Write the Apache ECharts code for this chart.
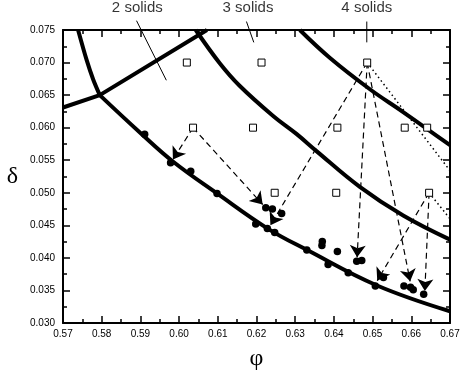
<!DOCTYPE html>
<html>
<head>
<meta charset="utf-8">
<script src="https://cdn.jsdelivr.net/npm/echarts@6.0.0/dist/echarts.min.js"></script>
<style>
  html, body { margin: 0; padding: 0; background: #fff; }
  #chart { width: 463px; height: 376px; }
</style>
</head>
<body>
<div id="chart"></div>
<script>
// 坐标范围
const phiRange = [0.57, 0.67]
const deltaRange = [0.030, 0.075]

// 实心圆：最终状态
const endPhi = [0.5911, 0.5978, 0.6030, 0.6098, 0.6198, 0.6224, 0.6241, 0.6265, 0.6228, 0.6247,
  0.6330, 0.6370, 0.6369, 0.6409, 0.6385, 0.6437, 0.6459, 0.6472, 0.6507, 0.6528,
  0.6581, 0.6598, 0.6605, 0.6632]
const endDelta = [0.0590, 0.0546, 0.0533, 0.0499, 0.0452, 0.0477, 0.0475, 0.0468, 0.0445, 0.0439,
  0.0412, 0.0425, 0.0419, 0.0410, 0.0390, 0.0377, 0.0395, 0.0396, 0.0357, 0.0370,
  0.0357, 0.0355, 0.0351, 0.0344]

// 空心方块：初始状态
const startPhi = [0.6020, 0.6213, 0.6486, 0.6036, 0.6191, 0.6409, 0.6583, 0.6641, 0.6247, 0.6406, 0.6646]
const startDelta = [0.070, 0.070, 0.070, 0.060, 0.060, 0.060, 0.060, 0.060, 0.050, 0.050, 0.050]

// 相边界（粗实线）
const lineAPhi = [0.5700, 0.5795, 0.6072]
const lineADelta = [0.0631, 0.0650, 0.0750]
const curveB1Phi = [0.5739, 0.5761, 0.5778, 0.5795]
const curveB1Delta = [0.0750, 0.0704, 0.0674, 0.0650]
const curveB2Phi = [0.5795, 0.5898, 0.5984, 0.6098, 0.6229, 0.6331, 0.6510, 0.6700]
const curveB2Delta = [0.0650, 0.0593, 0.0548, 0.0499, 0.0445, 0.0412, 0.0358, 0.0318]
const curveCPhi = [0.6043, 0.6105, 0.6157, 0.6243, 0.6304, 0.6355, 0.6467, 0.6579, 0.6700]
const curveCDelta = [0.0750, 0.0699, 0.0664, 0.0618, 0.0590, 0.0564, 0.0509, 0.0465, 0.0428]
const curveDPhi = [0.6312, 0.6390, 0.6493, 0.6579, 0.6700]
const curveDDelta = [0.0750, 0.0707, 0.0659, 0.0624, 0.0573]

// 虚线箭头：起点 -> 终点
const arrowPhi0 = [0.6036, 0.6036, 0.6486, 0.6486, 0.6486, 0.6646, 0.6646]
const arrowDelta0 = [0.060, 0.060, 0.070, 0.070, 0.070, 0.050, 0.050]
const arrowPhi1 = [0.5984, 0.6216, 0.6236, 0.6460, 0.6597, 0.6512, 0.6635]
const arrowDelta1 = [0.0551, 0.0482, 0.0450, 0.0401, 0.0364, 0.0365, 0.0349]

// 点线（无箭头）
const dotPhi0 = [0.6486, 0.6646]
const dotDelta0 = [0.070, 0.050]
const dotPhi1 = [0.6700, 0.6700]
const dotDelta1 = [0.0534, 0.0460]

// 顶部标注
const regionNames = ['2 solids', '3 solids', '4 solids']
const regionPhi = [0.5892, 0.6178, 0.6485]
const regionDelta = [0.07836, 0.07836, 0.07836]
const leaderPhi0 = [0.5890, 0.6174, 0.6485]
const leaderDelta0 = [0.07643, 0.07630, 0.07630]
const leaderPhi1 = [0.5967, 0.6193, 0.6485]
const leaderDelta1 = [0.06728, 0.07310, 0.07310]

const sans = 'Liberation Sans'
const serif = 'Liberation Serif'
const zip = (a, b) => a.map((v, i) => [v, b[i]])

function thickLine(phi, delta, smooth) {
  return {
    type: 'line', data: zip(phi, delta), smooth: smooth,
    showSymbol: false, silent: true, z: 3,
    lineStyle: { color: '#000', width: 4, join: 'round' }
  }
}

function axisCommon(showLabel) {
  return {
    type: 'value',
    axisLine: { onZero: false, lineStyle: { color: '#000', width: 2 } },
    axisTick: { inside: true, length: 7, lineStyle: { color: '#000', width: 1.5 } },
    minorTick: { show: true, splitNumber: 2, length: 4, lineStyle: { color: '#000', width: 1.5 } },
    splitLine: { show: false },
    axisLabel: { show: showLabel, color: '#000', fontSize: 10, fontFamily: sans }
  }
}

const chart = echarts.init(document.getElementById('chart'))

const series = [
  thickLine(lineAPhi, lineADelta, false),
  thickLine(curveB1Phi, curveB1Delta, 0.3),
  thickLine(curveB2Phi, curveB2Delta, 0.4),
  thickLine(curveCPhi, curveCDelta, 0.4),
  thickLine(curveDPhi, curveDDelta, 0.4),
  {
    type: 'lines', coordinateSystem: 'cartesian2d', z: 4,
    symbol: ['none', 'arrow'], symbolSize: 12,
    lineStyle: { color: '#000', width: 1.2, type: [6, 4], opacity: 1 },
    data: arrowPhi0.map((p, i) => ({ coords: [[p, arrowDelta0[i]], [arrowPhi1[i], arrowDelta1[i]]] }))
  },
  {
    type: 'lines', coordinateSystem: 'cartesian2d', z: 4,
    lineStyle: { color: '#000', width: 1.5, type: [1.5, 3], opacity: 1 },
    data: dotPhi0.map((p, i) => ({ coords: [[p, dotDelta0[i]], [dotPhi1[i], dotDelta1[i]]] }))
  },
  {
    type: 'scatter', data: zip(endPhi, endDelta), symbol: 'circle', symbolSize: 7.5, z: 5,
    itemStyle: { color: '#000', opacity: 1 }
  },
  {
    type: 'scatter', data: zip(startPhi, startDelta), symbol: 'rect', symbolSize: 7, z: 6,
    itemStyle: { color: '#fff', borderColor: '#000', borderWidth: 1, opacity: 1 }
  },
  {
    type: 'scatter', clip: false, symbolSize: 0, z: 6,
    data: regionNames.map((n, i) => ({ name: n, value: [regionPhi[i], regionDelta[i]] })),
    label: { show: true, position: 'inside', formatter: '{b}', color: '#000', fontSize: 15, fontFamily: sans }
  }
]

// 标注引线
leaderPhi0.forEach((p, i) => {
  series.push({
    type: 'line', clip: false, showSymbol: false, silent: true, z: 6,
    data: [[p, leaderDelta0[i]], [leaderPhi1[i], leaderDelta1[i]]],
    lineStyle: { color: '#000', width: 1 }
  })
})

const option = {
  animation: false,
  backgroundColor: '#fff',
  grid: { left: 63, right: 13, top: 30, bottom: 48 },
  xAxis: [
    Object.assign(axisCommon(true), {
      position: 'bottom', min: phiRange[0], max: phiRange[1], interval: 0.01,
      name: 'φ', nameLocation: 'middle', nameGap: 24,
      nameTextStyle: { color: '#000', fontFamily: serif, fontSize: 24 }
    }),
    Object.assign(axisCommon(false), {
      position: 'top', min: phiRange[0], max: phiRange[1], interval: 0.01
    })
  ],
  yAxis: [
    Object.assign(axisCommon(true), {
      position: 'left', min: deltaRange[0], max: deltaRange[1], interval: 0.005,
      name: 'δ', nameLocation: 'middle', nameGap: 45, nameRotate: 0,
      nameTextStyle: { color: '#000', fontFamily: serif, fontSize: 24 }
    }),
    Object.assign(axisCommon(false), {
      position: 'right', min: deltaRange[0], max: deltaRange[1], interval: 0.005
    })
  ],
  series: series
}
option.xAxis[0].axisLabel.formatter = v => v.toFixed(2)
option.xAxis[0].axisLabel.margin = 6
option.yAxis[0].axisLabel.formatter = v => v.toFixed(3)
option.yAxis[0].axisLabel.margin = 8

chart.setOption(option)
</script>
</body>
</html>
